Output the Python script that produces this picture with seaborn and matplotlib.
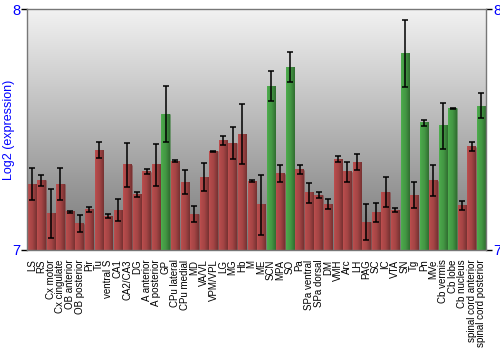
import numpy as np
import pandas as pd
import matplotlib
matplotlib.use("Agg")
import matplotlib.pyplot as plt
import seaborn as sns
from matplotlib.colors import to_rgb

regions = ["LS", "RS", "Cx motor", "Cx cingulate", "OB anterior", "OB posterior", "Pir", "Tu",
           "ventral S", "CA1", "CA2/CA3", "DG", "A anterior", "A posterior", "GP", "CPu lateral",
           "CPu medial", "MD", "VA/VL", "VPM/VPL", "LG", "MG", "Hb", "M", "ME", "SCN", "MPA", "SO",
           "Pa", "SPa ventral", "SPa dorsal", "DM", "VMH", "Arc", "LH", "PAG", "SC", "IC", "VTA",
           "SN", "Tg", "Pn", "MVe", "Cb vermis", "Cb lobe", "Cb nucleus", "spinal cord anterior",
           "spinal cord posterior"]
values = [7.273, 7.289, 7.151, 7.273, 7.158, 7.108, 7.169, 7.415,
          7.140, 7.166, 7.353, 7.230, 7.325, 7.353, 7.564, 7.369,
          7.281, 7.149, 7.303, 7.409, 7.455, 7.444, 7.480, 7.286, 7.187, 7.680, 7.317, 7.758,
          7.333, 7.237, 7.227, 7.190, 7.376, 7.324, 7.365, 7.116, 7.154, 7.239, 7.166,
          7.817, 7.227, 7.528, 7.288, 7.516, 7.589, 7.185, 7.429,
          7.598]
errors = [0.066, 0.022, 0.100, 0.066, 0.003, 0.035, 0.011, 0.032,
          0.008, 0.046, 0.093, 0.010, 0.010, 0.087, 0.115, 0.003,
          0.050, 0.035, 0.057, 0.003, 0.019, 0.066, 0.124, 0.004, 0.124, 0.063, 0.037, 0.062,
          0.019, 0.042, 0.012, 0.021, 0.012, 0.043, 0.033, 0.073, 0.039, 0.062, 0.008,
          0.139, 0.053, 0.012, 0.066, 0.095, 0.002, 0.019, 0.020,
          0.052]
green_regions = ["GP", "SCN", "SO", "SN", "Pn", "Cb vermis", "Cb lobe", "spinal cord posterior"]
groups = ["high" if r in green_regions else "base" for r in regions]

palette = {"base": "#b53535", "high": "#36a636"}

sns.set_theme(style="white")
plt.rcParams['font.family'] = ['Liberation Sans', 'DejaVu Sans']

fig = plt.figure(figsize=(5, 3.5), dpi=100)
ax = fig.add_axes([0.054, 0.286, 0.918, 0.688])

# background gradient
bg = np.linspace(0, 1, 256).reshape(-1, 1)
top = np.array(to_rgb("#f2f2f2"))
bot = np.array(to_rgb("#777777"))
bg_img = top[None, None, :] * (1 - bg[:, :, None]) + bot[None, None, :] * bg[:, :, None]
ax.imshow(bg_img, extent=[0, 1, 0, 1], transform=ax.transAxes, aspect="auto", zorder=0)

df = pd.DataFrame({"region": regions, "value": values, "group": groups})
sns.barplot(data=df, x="region", y="value", hue="group", palette=palette, dodge=False,
            width=0.88, errorbar=None, legend=False, ax=ax, zorder=2)

ax.set_ylim(7, 8)
xlim = ax.get_xlim()

# horizontal shading on each bar
for p in list(ax.patches):
    x0, w = p.get_x(), p.get_width()
    h = p.get_height()
    if w <= 0 or h <= 0:
        continue
    base = np.array(p.get_facecolor()[:3])
    t = np.linspace(0, 1, 32)
    fac = np.interp(t, [0, 0.15, 0.5, 1], [1.15, 1.08, 1.0, 0.72])
    cols = np.clip(base[None, :] * fac[:, None], 0, 1)[None, :, :]
    ax.imshow(cols, extent=[x0, x0 + w, 7, p.get_y() + h], aspect="auto", zorder=2.5)
    p.set_edgecolor((0, 0, 0, 0.15))
    p.set_linewidth(0.5)

ax.errorbar(np.arange(len(regions)), values, yerr=errors, fmt="none", ecolor="black",
            elinewidth=1.1, capsize=2.2, capthick=1.1, zorder=4)

ax.set_xlim(xlim)
ax.set_ylim(7, 8)
ax.set_aspect("auto")

ax.set_yticks([7, 8])
ax.set_yticklabels(["7", "8"])
ax.tick_params(axis="y", left=True, right=True, labelleft=True, labelright=True,
               labelcolor="blue", color="black", length=4, width=1, labelsize=10.5, pad=1)
ax.tick_params(axis="x", bottom=False, labelsize=7, labelcolor="black", pad=1)
plt.setp(ax.get_xticklabels(), rotation=90, ha="center", va="top")
ax.set_xlabel("")
ax.set_ylabel("Log2 (expression)", color="blue", fontsize=9, va="center")
ax.yaxis.set_label_coords(-0.039, 0.5)

for s in ax.spines.values():
    s.set_color("#777777")
    s.set_linewidth(1)
    s.set_visible(True)

fig.savefig("out.png", dpi=100)
